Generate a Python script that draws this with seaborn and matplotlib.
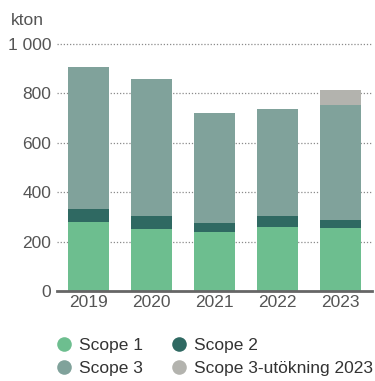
import matplotlib
matplotlib.use("Agg")
import matplotlib.pyplot as plt
from matplotlib.lines import Line2D
import numpy as np
import pandas as pd
import seaborn as sns

years = ["2019", "2020", "2021", "2022", "2023"]
scope1 = [278, 250, 237, 260, 256]
scope2 = [55, 52, 40, 45, 33]
scope3 = [575, 556, 443, 432, 465]
scope3_ext = [0, 0, 0, 0, 60]
yticks = [0, 200, 400, 600, 800, 1000]
ytick_labels = ["0", "200", "400", "600", "800", "1 000"]

colors = {
    "Scope 1": "#6dbe8f",
    "Scope 2": "#2f6962",
    "Scope 3": "#80a29b",
    "Scope 3-utökning 2023": "#b3b3ae",
}
text_color = "#555555"
fs = 12.5

sns.set_theme(style="white")
plt.rcParams["font.family"] = ["Liberation Sans", "DejaVu Sans"]

fig = plt.figure(figsize=(3.75, 3.81), dpi=100)
ax = fig.add_axes([0.152, 0.236, 0.84, 0.649])

df = pd.DataFrame({"year": years, "s1": scope1, "s2": scope2,
                   "s3": scope3, "ext": scope3_ext})
b2 = np.array(scope1)
b3 = b2 + np.array(scope2)
b4 = b3 + np.array(scope3)

common = dict(x="year", data=df, ax=ax, width=0.635, linewidth=0, saturation=1)
sns.barplot(y="s1", color=colors["Scope 1"], **common)
sns.barplot(y="s2", bottom=b2, color=colors["Scope 2"], **common)
sns.barplot(y="s3", bottom=b3, color=colors["Scope 3"], **common)
sns.barplot(y="ext", bottom=b4, color=colors["Scope 3-utökning 2023"], **common)

ax.set_xlim(-0.5, 4.5)
ax.set_ylim(0, 1000)
ax.set_yticks(yticks)
ax.set_yticklabels(ytick_labels)
ax.set_xlabel("")
ax.set_ylabel("")
for y in yticks[1:]:
    ax.axhline(y, color="#8a8a8a", lw=0.9, ls=(0, (1, 1.5)), zorder=0, clip_on=False)

for s in ["top", "right", "left"]:
    ax.spines[s].set_visible(False)
ax.spines["bottom"].set_color("#666666")
ax.spines["bottom"].set_linewidth(2)
ax.spines["bottom"].set_zorder(5)
ax.tick_params(axis="both", length=0, labelsize=fs, colors=text_color)
ax.tick_params(axis="y", pad=4)
ax.tick_params(axis="x", pad=3)

fig.text(0.03, 0.945, "kton", fontsize=fs, color=text_color, va="center", ha="left")

handles = [Line2D([], [], marker="o", ls="", markersize=10.5,
                  markerfacecolor=colors[k], markeredgewidth=0) for k in
           ["Scope 1", "Scope 3", "Scope 2", "Scope 3-utökning 2023"]]
labels = ["Scope 1", "Scope 3", "Scope 2", "Scope 3-utökning 2023"]
leg = fig.legend(handles, labels, ncol=2, loc="upper left",
                 bbox_to_anchor=(0.147, 0.113), frameon=False, fontsize=fs,
                 handletextpad=0.36, columnspacing=1.6, labelspacing=0.44,
                 handlelength=1.0, borderpad=0, borderaxespad=0)
for t in leg.get_texts():
    t.set_color("#333333")

fig.savefig("out.png", dpi=100)
